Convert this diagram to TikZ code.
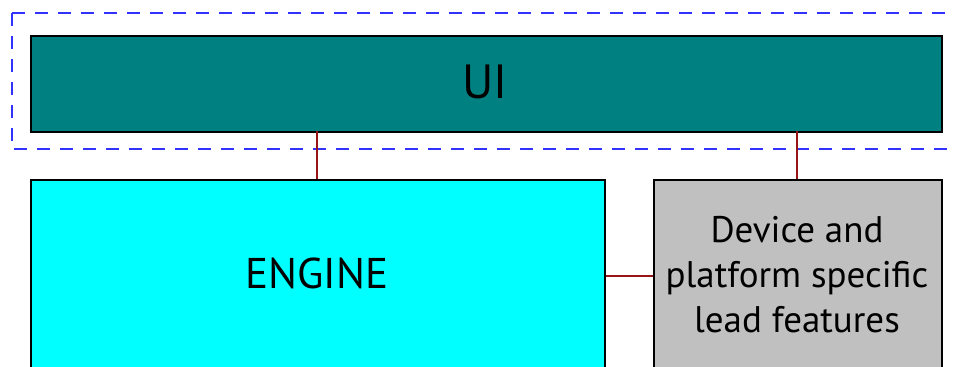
\documentclass[tikz,border=0pt]{standalone}
\usepackage{fontspec}
\setmainfont{PT Sans}
\begin{document}
\begin{tikzpicture}[x=1pt,y=-1pt,
  blockbox/.style={draw=black,line width=1.5pt,inner sep=0pt,anchor=north west},
  link/.style={draw={rgb,255:red,150;green,20;blue,20},line width=1.8pt},
  label/.style={align=center,anchor=base,inner sep=0pt}]
\definecolor{uiteal}{RGB}{0,128,128}
\definecolor{enginecyan}{RGB}{0,255,255}
\definecolor{devgrey}{RGB}{192,192,192}
\definecolor{groupblue}{RGB}{50,50,255}
\useasboundingbox (0,0) rectangle (954,367);
\clip (0,0) rectangle (954,367);
\fill[white] (0,0) rectangle (954,367);
% layer group outline around the UI
\draw[groupblue,line width=2pt,dash pattern=on 13pt off 10pt] (12,13) rectangle (975,149);
% blocks
\node[blockbox,fill=uiteal,minimum width=911pt,minimum height=96pt] (ui) at (30,35) {};
\node[blockbox,fill=enginecyan,minimum width=574pt,minimum height=220pt] (engine) at (30,179) {};
\node[blockbox,fill=devgrey,minimum width=288pt,minimum height=220pt] (dev) at (653,179) {};
% labels (anchored on the baseline of their last line)
\node[label,font=\fontsize{48}{50}\selectfont] (uitext) at (485,98) {UI};
\node[label,font=\fontsize{43}{45}\selectfont] (enginetext) at (317,288) {ENGINE};
\node[label,font=\fontsize{37}{45}\selectfont] (devtext) at (797,332) {Device and\\platform specific\\lead features};
% connectors
\coordinate (uiA) at (317,131);
\coordinate (uiB) at (797,131);
\draw[link] (uiA) -- (uiA |- engine.north);
\draw[link] (uiB) -- (uiB |- dev.north);
\draw[link] (engine.east |- 0,276) -- (dev.west |- 0,276);
\end{tikzpicture}
\end{document}
